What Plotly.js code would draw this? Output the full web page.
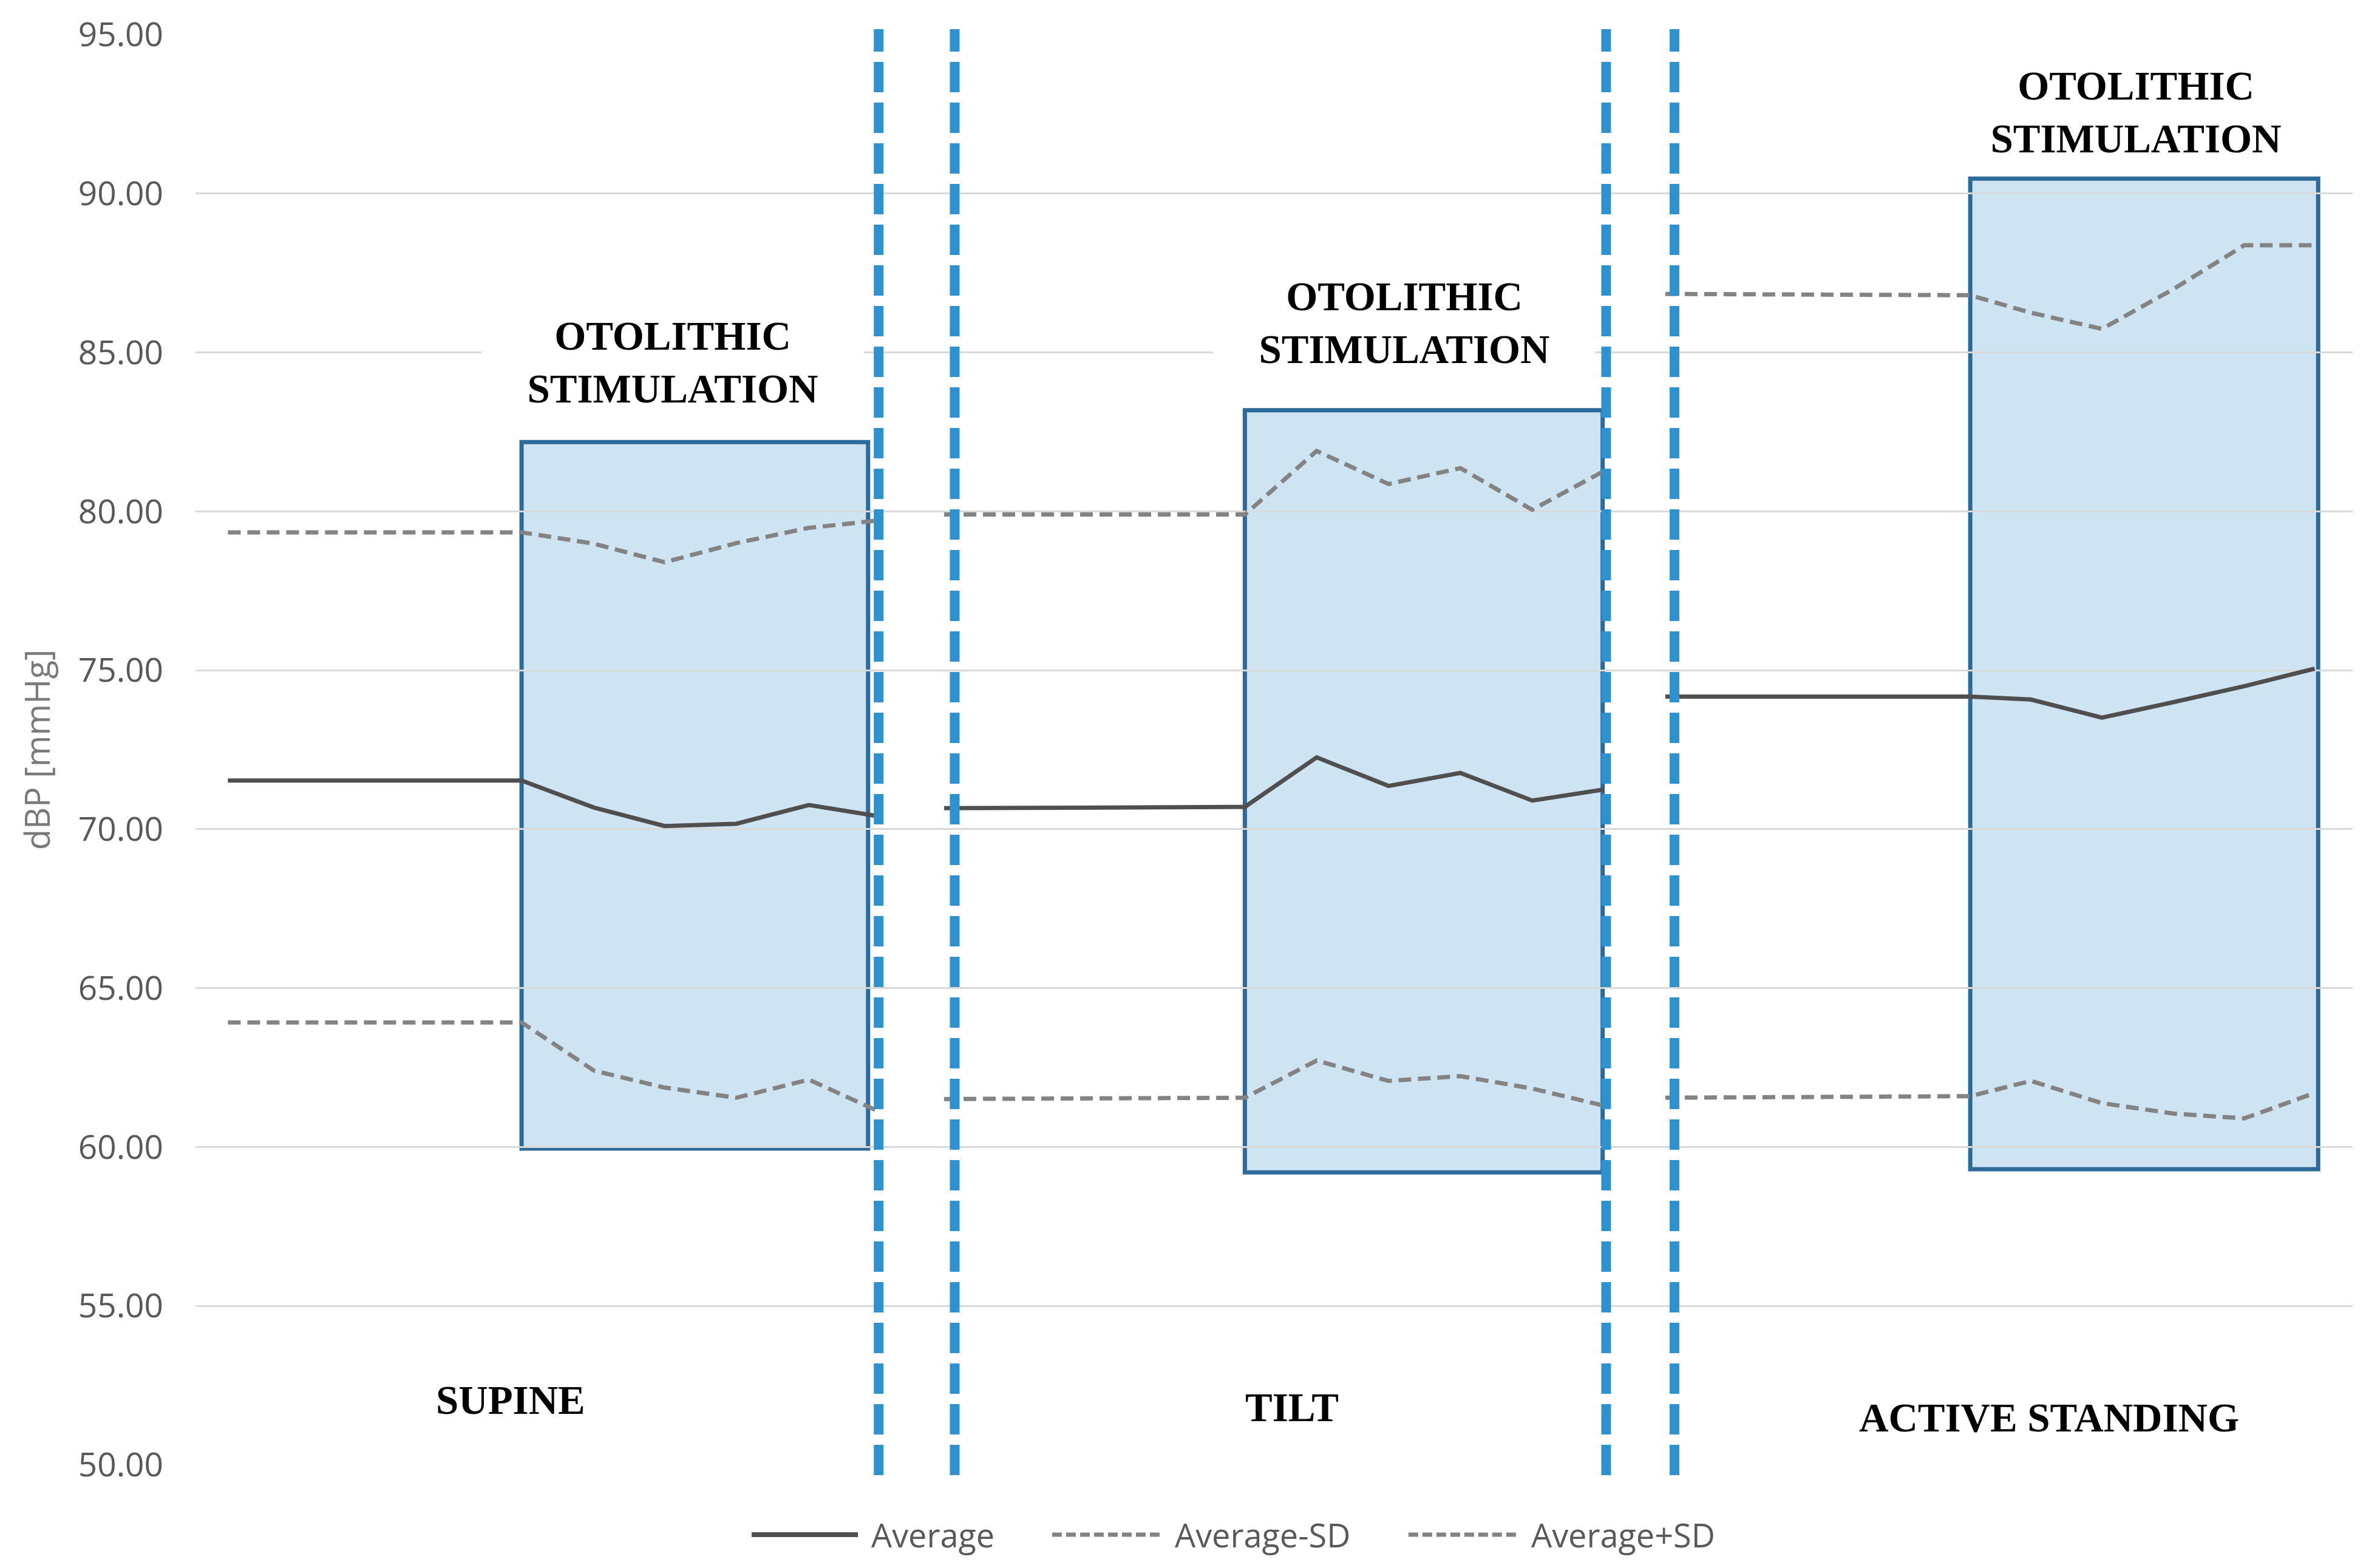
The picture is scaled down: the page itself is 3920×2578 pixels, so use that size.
<!DOCTYPE html>
<html><head><meta charset="utf-8">
<script src="https://cdn.plot.ly/plotly-3.0.1.min.js"></script>
<style>html,body{margin:0;padding:0;background:#fff}#chart{width:3920px;height:2578px}</style>
</head><body><div id="chart"></div>
<script>
// ---- data ----
const phases = ['SUPINE', 'TILT', 'ACTIVE STANDING'];
const stimLabel = 'OTOLITHIC<br>STIMULATION';
const seriesNames = ['Average', 'Average-SD', 'Average+SD'];
const yAxisTitle = 'dBP [mmHg]';

// time positions (arbitrary units) of each phase's samples
const supineX = [0.46, 4.63, 5.66, 6.66, 7.68, 8.71, 9.72];
const tiltX   = [10.63, 14.90, 15.92, 16.94, 17.96, 18.98, 20.00];
const standX  = [20.87, 25.20, 26.06, 27.07, 28.09, 29.09, 30.09];

const supineAvg  = [71.53, 71.53, 70.68, 70.10, 70.17, 70.76, 70.40];
const supineLow  = [63.92, 63.92, 62.40, 61.87, 61.55, 62.12, 61.10];
const supineHigh = [79.34, 79.34, 78.98, 78.40, 79.00, 79.48, 79.72];

const tiltAvg  = [70.66, 70.70, 72.26, 71.36, 71.77, 70.90, 71.25];
const tiltLow  = [61.51, 61.55, 62.72, 62.08, 62.23, 61.84, 61.30];
const tiltHigh = [79.90, 79.90, 81.90, 80.86, 81.36, 80.05, 81.27];

const standAvg  = [74.17, 74.17, 74.08, 73.51, 74.00, 74.50, 75.05];
const standLow  = [61.55, 61.60, 62.08, 61.38, 61.05, 60.90, 61.70];
const standHigh = [86.84, 86.80, 86.25, 85.74, 87.00, 88.37, 88.37];

// stimulation windows (time start/end, dBP low/high of the highlighted box)
const stimStart = [4.63, 14.90, 25.20];
const stimEnd   = [9.55, 19.98, 30.14];
const stimLow   = [59.95, 59.20, 59.30];
const stimHigh  = [82.18, 83.18, 90.47];

// phase boundaries (dashed separators)
const phaseBounds = [9.70, 10.78, 20.03, 21.00];

// ---- build ----
const join = (a, b, c) => [...a, null, ...b, null, ...c];
const X = join(supineX, tiltX, standX);

const avgColor = '#4f4f4f', sdColor = '#838383';
const traces = [
  {x: X, y: join(supineAvg, tiltAvg, standAvg), name: seriesNames[0], mode: 'lines',
   line: {color: avgColor, width: 7}, connectgaps: false},
  {x: X, y: join(supineLow, tiltLow, standLow), name: seriesNames[1], mode: 'lines',
   line: {color: sdColor, width: 7, dash: '21px,11px'}, connectgaps: false},
  {x: X, y: join(supineHigh, tiltHigh, standHigh), name: seriesNames[2], mode: 'lines',
   line: {color: sdColor, width: 7, dash: '21px,11px'}, connectgaps: false}
];

const shapes = [];
for (let i = 0; i < stimStart.length; i++) {
  shapes.push({type: 'rect', xref: 'x', yref: 'y', layer: 'below',
    x0: stimStart[i], x1: stimEnd[i], y0: stimLow[i], y1: stimHigh[i],
    fillcolor: '#cfe4f3', line: {color: '#2b6a99', width: 7}});
}
for (const b of phaseBounds) {
  shapes.push({type: 'line', xref: 'x', yref: 'paper', layer: 'above',
    x0: b, x1: b, y0: -0.0072, y1: 1.0038,
    line: {color: '#2e92d0', width: 16, dash: '50px,17px'}});
}

const serif = {family: 'Liberation Serif, Times New Roman, serif', size: 67, color: '#000000'};
const annotations = [];
const stimPos = [[0.2212, 0.7712], [0.5604, 0.7984], [0.8995, 0.9457]];
stimPos.forEach(p => annotations.push({xref: 'paper', yref: 'paper', x: p[0], y: p[1],
  text: '<b>' + stimLabel + '</b>', showarrow: false, font: serif, align: 'center',
  xanchor: 'center', yanchor: 'middle', bgcolor: '#ffffff', width: 620, borderpad: 4}));
const phasePos = [[0.1461, 0.0454], [0.5083, 0.0403], [0.8593, 0.0331]];
phases.forEach((t, i) => annotations.push({xref: 'paper', yref: 'paper',
  x: phasePos[i][0], y: phasePos[i][1], text: '<b>' + t + '</b>', showarrow: false,
  font: serif, xanchor: 'center', yanchor: 'middle'}));

// legend drawn below the plot
const legY = -0.0488;
const legLines = [[0.2578, 0.3071], [0.3971, 0.4478], [0.5623, 0.6130]];
const legStyles = [{color: avgColor, width: 8}, {color: sdColor, width: 7, dash: '16px,7px'}, {color: sdColor, width: 7, dash: '16px,7px'}];
seriesNames.forEach((n, i) => {
  shapes.push({type: 'line', xref: 'paper', yref: 'paper', x0: legLines[i][0], x1: legLines[i][1],
    y0: legY, y1: legY, line: legStyles[i]});
  annotations.push({xref: 'paper', yref: 'paper', x: legLines[i][1] + 0.0056, y: legY,
    text: n, showarrow: false, xanchor: 'left', yanchor: 'middle',
    font: {family: 'Open Sans, sans-serif', size: 54, color: '#595959'}});
});

const layout = {
  width: 3920, height: 2578,
  margin: {l: 322, r: 45, t: 57, b: 165},
  paper_bgcolor: '#ffffff', plot_bgcolor: '#ffffff',
  showlegend: false,
  xaxis: {range: [0, 30.63], showgrid: false, zeroline: false, showline: false,
    showticklabels: false, ticks: '', automargin: false},
  yaxis: {range: [50, 95], dtick: 5, tick0: 50, tickformat: '.2f',
    showgrid: true, gridcolor: '#d9d9d9', gridwidth: 3, zeroline: false, showline: false,
    ticks: '', ticklabelstandoff: 52, automargin: false,
    tickfont: {family: 'Open Sans, sans-serif', size: 55, color: '#595959'},
    title: {text: yAxisTitle, standoff: 28, font: {family: 'Open Sans, sans-serif', size: 56, color: '#7a7a7a'}}},
  shapes: shapes,
  annotations: annotations
};

Plotly.newPlot('chart', traces, layout, {staticPlot: true, displayModeBar: false});
</script></body></html>
